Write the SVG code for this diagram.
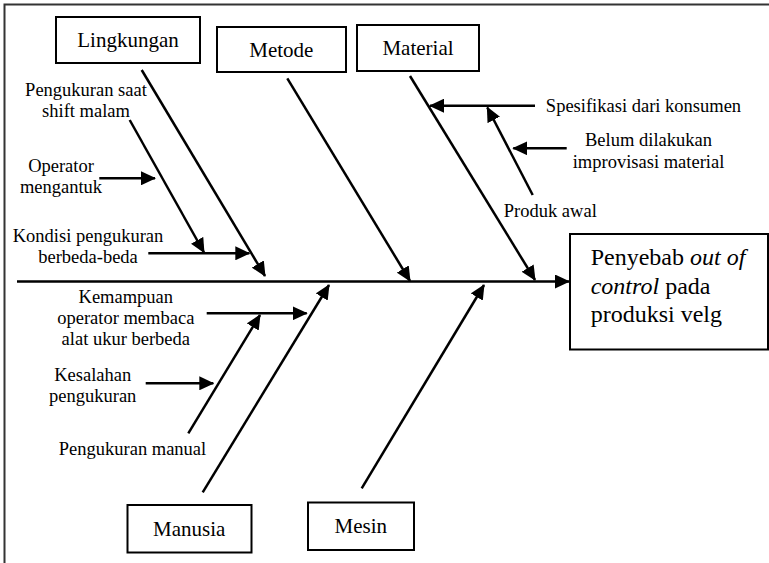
<svg xmlns="http://www.w3.org/2000/svg" width="769" height="563" viewBox="0 0 769 563">
  <style>
    text { font-family: "Liberation Serif", "Times New Roman", serif; fill: #000; }
    .box { fill: #fff; stroke: #000; stroke-width: 2; }
    .cat { font-size: 21px; text-anchor: middle; }
    .lbl { font-size: 18.5px; text-anchor: middle; }
    .eff { font-size: 24px; }
    .ln { fill: none; stroke: #000; stroke-width: 2.5; }
    .arr { fill: none; stroke: #000; stroke-width: 2.5; marker-end: url(#head); }
  </style>
  <defs>
    <marker id="head" markerUnits="userSpaceOnUse" viewBox="0 0 15 14" markerWidth="15" markerHeight="14" refX="14" refY="7" orient="auto">
      <path d="M0,0 L15,7 L0,14 Z" fill="#000"/>
    </marker>
  </defs>

  <!-- page frame -->
  <rect x="4.5" y="4.5" width="820" height="620" fill="#fff" stroke="#333" stroke-width="2"/>

  <!-- connectors -->
  <g id="connectors">
    <!-- spine -->
    <path class="arr" d="M17,281.5 L569,281.5"/>
    <!-- main bones -->
    <path class="arr" d="M141.7,70 L265,276"/>
    <path class="arr" d="M287.3,78.3 L410,281"/>
    <path class="arr" d="M410,76 L535,280"/>
    <path class="arr" d="M202.7,492.3 L329,285"/>
    <path class="arr" d="M361.7,488.3 L484,285"/>
    <!-- Lingkungan causes -->
    <path class="arr" d="M129.7,120 L204,252.5"/>
    <path class="arr" d="M99.3,178.3 L155,178.3"/>
    <path class="arr" d="M148.3,253.3 L249.3,253.3"/>
    <!-- Material causes -->
    <path class="arr" d="M535,105.7 L430,105.7"/>
    <path class="arr" d="M532.7,195 L487.3,107.5"/>
    <path class="arr" d="M566.7,148.3 L513.3,148.3"/>
    <!-- Manusia causes -->
    <path class="arr" d="M206.7,313.3 L306.7,313.3"/>
    <path class="arr" d="M188.3,433.3 L260,315"/>
    <path class="arr" d="M145.7,383.3 L213.3,383.3"/>
  </g>

  <!-- category boxes -->
  <g id="lingkungan">
    <rect class="box" x="56" y="17" width="144" height="46"/>
    <text class="cat" x="128" y="47">Lingkungan</text>
  </g>
  <g id="metode">
    <rect class="box" x="217" y="27" width="129" height="45"/>
    <text class="cat" x="281.3" y="56.7">Metode</text>
  </g>
  <g id="material">
    <rect class="box" x="357" y="25" width="122" height="46"/>
    <text class="cat" x="418" y="55">Material</text>
  </g>
  <g id="manusia">
    <rect class="box" x="127.5" y="505" width="124" height="47.5"/>
    <text class="cat" x="189.2" y="535.7">Manusia</text>
  </g>
  <g id="mesin">
    <rect class="box" x="308" y="502.5" width="106" height="47.5"/>
    <text class="cat" x="360.8" y="532.7">Mesin</text>
  </g>

  <!-- effect -->
  <g id="effect">
    <rect class="box" x="570" y="234" width="198" height="115.5"/>
    <text class="eff" x="590.7" y="265">Penyebab <tspan font-style="italic">out of</tspan></text>
    <text class="eff" x="590.7" y="294"><tspan font-style="italic">control</tspan> pada</text>
    <text class="eff" x="590.7" y="322">produksi velg</text>
  </g>

  <!-- cause labels -->
  <g id="cause-shift-malam">
    <text class="lbl" x="86" y="95.7">Pengukuran saat</text>
    <text class="lbl" x="86" y="117.3">shift malam</text>
  </g>
  <g id="cause-operator-mengantuk">
    <text class="lbl" x="61" y="171.7">Operator</text>
    <text class="lbl" x="61" y="192.5">mengantuk</text>
  </g>
  <g id="cause-kondisi">
    <text class="lbl" x="88" y="241.7">Kondisi pengukuran</text>
    <text class="lbl" x="88" y="262.7">berbeda-beda</text>
  </g>
  <g id="cause-spesifikasi">
    <text class="lbl" x="643.5" y="111.7">Spesifikasi dari konsumen</text>
  </g>
  <g id="cause-improvisasi">
    <text class="lbl" x="648.5" y="146">Belum dilakukan</text>
    <text class="lbl" x="648.5" y="168.3">improvisasi material</text>
  </g>
  <g id="cause-produk-awal">
    <text class="lbl" x="550.3" y="216.7">Produk awal</text>
  </g>
  <g id="cause-kemampuan">
    <text class="lbl" x="125.8" y="303.3">Kemampuan</text>
    <text class="lbl" x="125.8" y="324.3">operator membaca</text>
    <text class="lbl" x="125.8" y="345">alat ukur berbeda</text>
  </g>
  <g id="cause-kesalahan">
    <text class="lbl" x="92.7" y="381">Kesalahan</text>
    <text class="lbl" x="92.7" y="401.7">pengukuran</text>
  </g>
  <g id="cause-manual">
    <text class="lbl" x="132.5" y="455">Pengukuran manual</text>
  </g>
</svg>
